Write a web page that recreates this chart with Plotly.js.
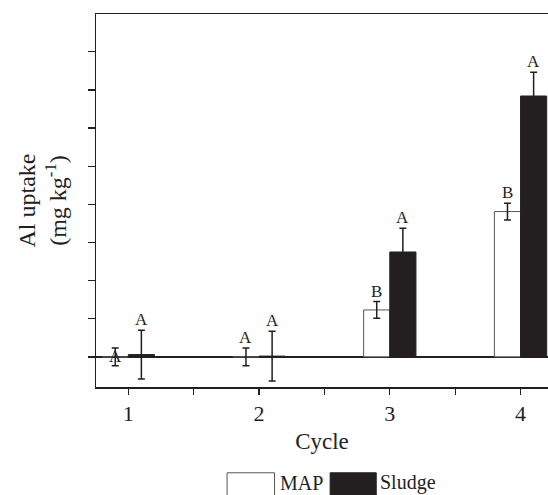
<!DOCTYPE html>
<html>
<head>
<meta charset="utf-8">
<script src="https://cdn.plot.ly/plotly-3.0.1.min.js"></script>
<style>html,body{margin:0;padding:0;background:#fff;}#chart{width:548px;height:495px;}</style>
</head>
<body>
<div id="chart"></div>
<script>
// Data (y values in axis tick units; axis has no numeric labels)
var cycles = [1, 2, 3, 4];
var cycleLabels = ["1", "2", "3", "4"];
var mapValues = [0.0, 0.0, 1.23, 3.81];
var mapErrors = [0.23, 0.23, 0.22, 0.22];
var sludgeValues = [0.06, 0.02, 2.75, 6.84];
var sludgeErrors = [0.64, 0.65, 0.62, 0.62];
var mapLetters = ["A", "A", "B", "B"];
var sludgeLetters = ["A", "A", "A", "A"];
var seriesNames = ["MAP", "Sludge"];

var ink = "#231f20";
var serif = "Liberation Serif, Times New Roman, serif";

var traces = [
  {
    type: "bar", name: seriesNames[0], x: cycles, y: mapValues,
    marker: {color: "#ffffff", line: {color: "#555555", width: 1}},
    error_y: {type: "data", array: mapErrors, visible: true, color: ink, thickness: 1.5, width: 3.5},
    showlegend: false, hoverinfo: "skip"
  },
  {
    type: "bar", name: seriesNames[1], x: cycles, y: sludgeValues,
    marker: {color: ink, line: {color: ink, width: 1}},
    error_y: {type: "data", array: sludgeErrors, visible: true, color: ink, thickness: 1.5, width: 3.5},
    showlegend: false, hoverinfo: "skip"
  }
];

var annotations = [];
var half = 0.1; // half of a bar's width in group (bargap 0.6, 2 bars)
cycles.forEach(function(c, i) {
  var mTop = mapValues[i] + mapErrors[i];
  var atZero = (i === 0);
  annotations.push({
    x: c - half, y: atZero ? mapValues[i] : mTop, xref: "x", yref: "y",
    text: mapLetters[i], showarrow: false,
    yanchor: atZero ? "middle" : "bottom", yshift: atZero ? 0 : -1,
    font: {family: serif, size: 17, color: ink}
  });
  annotations.push({
    x: c + half, y: sludgeValues[i] + sludgeErrors[i], xref: "x", yref: "y",
    text: sludgeLetters[i], showarrow: false, yanchor: "bottom", yshift: -1,
    font: {family: serif, size: 17, color: ink}
  });
});

// Legend drawn manually
annotations.push({xref: "paper", yref: "paper", x: 0.403, y: -0.291, xanchor: "left", yanchor: "bottom",
  text: seriesNames[0], showarrow: false, font: {family: serif, size: 20, color: ink}});
annotations.push({xref: "paper", yref: "paper", x: 0.624, y: -0.291, xanchor: "left", yanchor: "bottom",
  text: seriesNames[1], showarrow: false, font: {family: serif, size: 20, color: ink}});

var shapes = [
  {type: "rect", xref: "paper", yref: "paper", x0: 0.29, x1: 0.395, y0: -0.34, y1: -0.23,
   fillcolor: "#ffffff", line: {color: "#555555", width: 1}},
  {type: "rect", xref: "paper", yref: "paper", x0: 0.518, x1: 0.620, y0: -0.34, y1: -0.23,
   fillcolor: ink, line: {color: ink, width: 1}}
];

var layout = {
  width: 548, height: 495,
  margin: {l: 96, r: 0, t: 14, b: 108, pad: 0},
  paper_bgcolor: "#ffffff", plot_bgcolor: "#ffffff",
  barmode: "group", bargap: 0.6, bargroupgap: 0,
  font: {family: serif, color: ink},
  showlegend: false,
  xaxis: {
    range: [0.753, 4.21], tickmode: "array", tickvals: cycles, ticktext: cycleLabels,
    ticks: "outside", ticklen: 6, tickwidth: 1.3, tickcolor: ink,
    minor: {tickmode: "linear", tick0: 0.5, dtick: 0.5, ticks: "outside", ticklen: 6, tickwidth: 1.3, tickcolor: ink, showgrid: false},
    showline: true, linecolor: ink, linewidth: 1.5, mirror: true,
    showgrid: false, zeroline: false,
    tickfont: {family: serif, size: 22, color: ink},
    title: {text: "Cycle", font: {family: serif, size: 23, color: ink}, standoff: 8}
  },
  yaxis: {
    range: [-0.79, 8.99], tickmode: "linear", tick0: 0, dtick: 1,
    showticklabels: false,
    ticks: "outside", ticklen: 7, tickwidth: 1.3, tickcolor: ink,
    showline: true, linecolor: ink, linewidth: 1.5, mirror: false,
    showgrid: false, zeroline: true, zerolinecolor: ink, zerolinewidth: 1.5,
    title: {text: "Al uptake<br>(mg kg<sup>-1</sup>)", font: {family: serif, size: 24, color: ink}, standoff: 14}
  },
  annotations: annotations,
  shapes: shapes
};

Plotly.newPlot("chart", traces, layout, {displayModeBar: false, staticPlot: true});
</script>
</body>
</html>
